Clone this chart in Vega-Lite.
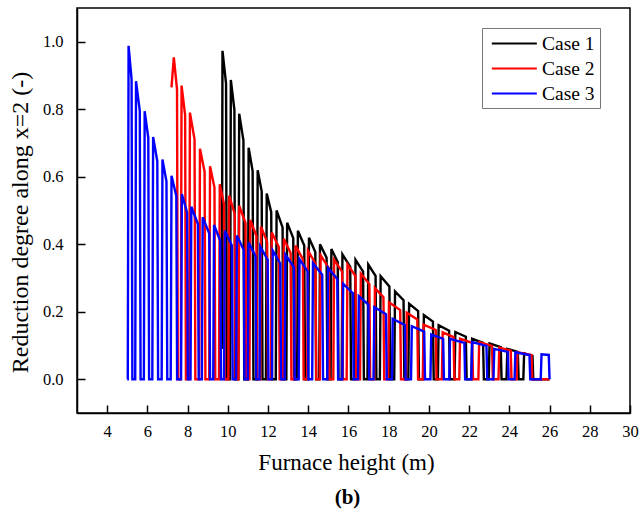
{
  "$schema": "https://vega.github.io/schema/vega-lite/v6.json",
  "width": 553,
  "height": 405,
  "autosize": {"type": "none"},
  "padding": {"left": 77, "top": 8, "right": 14, "bottom": 103},
  "background": "white",
  "title": {"text": "(b)", "orient": "bottom", "anchor": "middle", "font": "Liberation Serif", "fontSize": 21, "fontWeight": "bold", "color": "black", "offset": 12, "dx": -6},
  "data": {"values": [
    {"c":"Case 1","x":9.70,"y":0.09},{"c":"Case 1","x":9.735,"y":0.973},{"c":"Case 1","x":9.912,"y":0.876},{"c":"Case 1","x":9.952,"y":0},
    {"c":"Case 1","x":10.11,"y":0},{"c":"Case 1","x":10.15,"y":0.887},{"c":"Case 1","x":10.327,"y":0.798},{"c":"Case 1","x":10.367,"y":0},
    {"c":"Case 1","x":10.525,"y":0},{"c":"Case 1","x":10.565,"y":0.787},{"c":"Case 1","x":10.776,"y":0.708},{"c":"Case 1","x":10.816,"y":0},
    {"c":"Case 1","x":10.995,"y":0},{"c":"Case 1","x":11.035,"y":0.686},{"c":"Case 1","x":11.234,"y":0.617},{"c":"Case 1","x":11.274,"y":0},
    {"c":"Case 1","x":11.445,"y":0},{"c":"Case 1","x":11.485,"y":0.619},{"c":"Case 1","x":11.684,"y":0.557},{"c":"Case 1","x":11.724,"y":0},
    {"c":"Case 1","x":11.895,"y":0},{"c":"Case 1","x":11.935,"y":0.55},{"c":"Case 1","x":12.159,"y":0.495},{"c":"Case 1","x":12.199,"y":0},
    {"c":"Case 1","x":12.385,"y":0},{"c":"Case 1","x":12.425,"y":0.50},{"c":"Case 1","x":12.723,"y":0.45},{"c":"Case 1","x":12.763,"y":0},
    {"c":"Case 1","x":12.91,"y":0},{"c":"Case 1","x":12.95,"y":0.464},{"c":"Case 1","x":13.255,"y":0.418},{"c":"Case 1","x":13.295,"y":0},
    {"c":"Case 1","x":13.445,"y":0},{"c":"Case 1","x":13.485,"y":0.44},{"c":"Case 1","x":13.801,"y":0.396},{"c":"Case 1","x":13.841,"y":0},
    {"c":"Case 1","x":13.995,"y":0},{"c":"Case 1","x":14.035,"y":0.419},{"c":"Case 1","x":14.351,"y":0.377},{"c":"Case 1","x":14.391,"y":0},
    {"c":"Case 1","x":14.545,"y":0},{"c":"Case 1","x":14.585,"y":0.40},{"c":"Case 1","x":14.912,"y":0.36},{"c":"Case 1","x":14.952,"y":0},
    {"c":"Case 1","x":15.11,"y":0},{"c":"Case 1","x":15.15,"y":0.386},{"c":"Case 1","x":15.466,"y":0.347},{"c":"Case 1","x":15.506,"y":0},
    {"c":"Case 1","x":15.66,"y":0},{"c":"Case 1","x":15.70,"y":0.37},{"c":"Case 1","x":16.088,"y":0.333},{"c":"Case 1","x":16.128,"y":0},
    {"c":"Case 1","x":16.31,"y":0},{"c":"Case 1","x":16.35,"y":0.354},{"c":"Case 1","x":16.727,"y":0.319},{"c":"Case 1","x":16.767,"y":0},
    {"c":"Case 1","x":16.945,"y":0},{"c":"Case 1","x":16.985,"y":0.34},{"c":"Case 1","x":17.348,"y":0.306},{"c":"Case 1","x":17.388,"y":0},
    {"c":"Case 1","x":17.56,"y":0},{"c":"Case 1","x":17.60,"y":0.305},{"c":"Case 1","x":18.035,"y":0.275},{"c":"Case 1","x":18.075,"y":0},
    {"c":"Case 1","x":18.275,"y":0},{"c":"Case 1","x":18.315,"y":0.26},{"c":"Case 1","x":18.739,"y":0.234},{"c":"Case 1","x":18.779,"y":0},
    {"c":"Case 1","x":18.975,"y":0},{"c":"Case 1","x":19.015,"y":0.224},{"c":"Case 1","x":19.464,"y":0.202},{"c":"Case 1","x":19.504,"y":0},
    {"c":"Case 1","x":19.71,"y":0},{"c":"Case 1","x":19.75,"y":0.19},{"c":"Case 1","x":20.199,"y":0.171},{"c":"Case 1","x":20.239,"y":0},
    {"c":"Case 1","x":20.445,"y":0},{"c":"Case 1","x":20.485,"y":0.16},{"c":"Case 1","x":21.003,"y":0.144},{"c":"Case 1","x":21.043,"y":0},
    {"c":"Case 1","x":21.275,"y":0},{"c":"Case 1","x":21.315,"y":0.14},{"c":"Case 1","x":21.836,"y":0.126},{"c":"Case 1","x":21.876,"y":0},
    {"c":"Case 1","x":22.11,"y":0},{"c":"Case 1","x":22.15,"y":0.12},{"c":"Case 1","x":22.693,"y":0.108},{"c":"Case 1","x":22.733,"y":0},
    {"c":"Case 1","x":22.975,"y":0},{"c":"Case 1","x":23.015,"y":0.106},{"c":"Case 1","x":23.572,"y":0.095},{"c":"Case 1","x":23.612,"y":0},
    {"c":"Case 1","x":23.86,"y":0},{"c":"Case 1","x":23.90,"y":0.09},{"c":"Case 1","x":24.421,"y":0.081},{"c":"Case 1","x":24.461,"y":0},
    {"c":"Case 1","x":24.695,"y":0},{"c":"Case 1","x":24.735,"y":0.077},{"c":"Case 1","x":25.15,"y":0.069},{"c":"Case 1","x":25.19,"y":0},
    {"c":"Case 1","x":26.0,"y":0},

    {"c":"Case 2","x":7.20,"y":0.865},{"c":"Case 2","x":7.315,"y":0.954},{"c":"Case 2","x":7.474,"y":0.859},{"c":"Case 2","x":7.514,"y":0},
    {"c":"Case 2","x":7.66,"y":0},{"c":"Case 2","x":7.70,"y":0.87},{"c":"Case 2","x":7.877,"y":0.783},{"c":"Case 2","x":7.917,"y":0},
    {"c":"Case 2","x":8.075,"y":0},{"c":"Case 2","x":8.115,"y":0.79},{"c":"Case 2","x":8.345,"y":0.711},{"c":"Case 2","x":8.385,"y":0},
    {"c":"Case 2","x":8.575,"y":0},{"c":"Case 2","x":8.615,"y":0.683},{"c":"Case 2","x":8.845,"y":0.615},{"c":"Case 2","x":8.885,"y":0},
    {"c":"Case 2","x":9.075,"y":0},{"c":"Case 2","x":9.115,"y":0.631},{"c":"Case 2","x":9.336,"y":0.568},{"c":"Case 2","x":9.376,"y":0},
    {"c":"Case 2","x":9.56,"y":0},{"c":"Case 2","x":9.60,"y":0.578},{"c":"Case 2","x":9.808,"y":0.52},{"c":"Case 2","x":9.848,"y":0},
    {"c":"Case 2","x":10.025,"y":0},{"c":"Case 2","x":10.065,"y":0.544},{"c":"Case 2","x":10.345,"y":0.49},{"c":"Case 2","x":10.385,"y":0},
    {"c":"Case 2","x":10.525,"y":0},{"c":"Case 2","x":10.565,"y":0.514},{"c":"Case 2","x":10.881,"y":0.463},{"c":"Case 2","x":10.921,"y":0},
    {"c":"Case 2","x":11.075,"y":0},{"c":"Case 2","x":11.115,"y":0.472},{"c":"Case 2","x":11.42,"y":0.425},{"c":"Case 2","x":11.46,"y":0},
    {"c":"Case 2","x":11.61,"y":0},{"c":"Case 2","x":11.65,"y":0.452},{"c":"Case 2","x":11.955,"y":0.407},{"c":"Case 2","x":11.995,"y":0},
    {"c":"Case 2","x":12.145,"y":0},{"c":"Case 2","x":12.185,"y":0.435},{"c":"Case 2","x":12.537,"y":0.392},{"c":"Case 2","x":12.577,"y":0},
    {"c":"Case 2","x":12.745,"y":0},{"c":"Case 2","x":12.785,"y":0.416},{"c":"Case 2","x":13.123,"y":0.374},{"c":"Case 2","x":13.163,"y":0},
    {"c":"Case 2","x":13.325,"y":0},{"c":"Case 2","x":13.365,"y":0.396},{"c":"Case 2","x":13.731,"y":0.356},{"c":"Case 2","x":13.771,"y":0},
    {"c":"Case 2","x":13.945,"y":0},{"c":"Case 2","x":13.985,"y":0.381},{"c":"Case 2","x":14.359,"y":0.343},{"c":"Case 2","x":14.399,"y":0},
    {"c":"Case 2","x":14.575,"y":0},{"c":"Case 2","x":14.615,"y":0.367},{"c":"Case 2","x":15.017,"y":0.33},{"c":"Case 2","x":15.057,"y":0},
    {"c":"Case 2","x":15.245,"y":0},{"c":"Case 2","x":15.285,"y":0.354},{"c":"Case 2","x":15.684,"y":0.319},{"c":"Case 2","x":15.724,"y":0},
    {"c":"Case 2","x":15.91,"y":0},{"c":"Case 2","x":15.95,"y":0.34},{"c":"Case 2","x":16.349,"y":0.306},{"c":"Case 2","x":16.389,"y":0},
    {"c":"Case 2","x":16.575,"y":0},{"c":"Case 2","x":16.615,"y":0.313},{"c":"Case 2","x":17.039,"y":0.282},{"c":"Case 2","x":17.079,"y":0},
    {"c":"Case 2","x":17.275,"y":0},{"c":"Case 2","x":17.315,"y":0.27},{"c":"Case 2","x":17.739,"y":0.243},{"c":"Case 2","x":17.779,"y":0},
    {"c":"Case 2","x":17.975,"y":0},{"c":"Case 2","x":18.015,"y":0.228},{"c":"Case 2","x":18.572,"y":0.205},{"c":"Case 2","x":18.612,"y":0},
    {"c":"Case 2","x":18.86,"y":0},{"c":"Case 2","x":18.90,"y":0.197},{"c":"Case 2","x":19.421,"y":0.177},{"c":"Case 2","x":19.461,"y":0},
    {"c":"Case 2","x":19.695,"y":0},{"c":"Case 2","x":19.735,"y":0.162},{"c":"Case 2","x":20.339,"y":0.146},{"c":"Case 2","x":20.379,"y":0},
    {"c":"Case 2","x":20.645,"y":0},{"c":"Case 2","x":20.685,"y":0.139},{"c":"Case 2","x":21.228,"y":0.125},{"c":"Case 2","x":21.268,"y":0},
    {"c":"Case 2","x":21.51,"y":0},{"c":"Case 2","x":21.55,"y":0.12},{"c":"Case 2","x":22.154,"y":0.108},{"c":"Case 2","x":22.194,"y":0},
    {"c":"Case 2","x":22.46,"y":0},{"c":"Case 2","x":22.50,"y":0.11},{"c":"Case 2","x":23.14,"y":0.099},{"c":"Case 2","x":23.18,"y":0},
    {"c":"Case 2","x":23.46,"y":0},{"c":"Case 2","x":23.50,"y":0.094},{"c":"Case 2","x":24.068,"y":0.085},{"c":"Case 2","x":24.108,"y":0},
    {"c":"Case 2","x":24.36,"y":0},{"c":"Case 2","x":24.40,"y":0.08},{"c":"Case 2","x":25.10,"y":0.072},{"c":"Case 2","x":25.14,"y":0},
    {"c":"Case 2","x":26.0,"y":0},

    {"c":"Case 3","x":5.0,"y":0},
    {"c":"Case 3","x":5.025,"y":0},{"c":"Case 3","x":5.065,"y":0.988},{"c":"Case 3","x":5.214,"y":0.889},{"c":"Case 3","x":5.254,"y":0},
    {"c":"Case 3","x":5.395,"y":0},{"c":"Case 3","x":5.435,"y":0.883},{"c":"Case 3","x":5.622,"y":0.795},{"c":"Case 3","x":5.662,"y":0},
    {"c":"Case 3","x":5.825,"y":0},{"c":"Case 3","x":5.865,"y":0.794},{"c":"Case 3","x":6.045,"y":0.715},{"c":"Case 3","x":6.085,"y":0},
    {"c":"Case 3","x":6.245,"y":0},{"c":"Case 3","x":6.285,"y":0.718},{"c":"Case 3","x":6.493,"y":0.646},{"c":"Case 3","x":6.533,"y":0},
    {"c":"Case 3","x":6.71,"y":0},{"c":"Case 3","x":6.75,"y":0.651},{"c":"Case 3","x":6.949,"y":0.586},{"c":"Case 3","x":6.989,"y":0},
    {"c":"Case 3","x":7.16,"y":0},{"c":"Case 3","x":7.20,"y":0.603},{"c":"Case 3","x":7.439,"y":0.543},{"c":"Case 3","x":7.479,"y":0},
    {"c":"Case 3","x":7.675,"y":0},{"c":"Case 3","x":7.715,"y":0.549},{"c":"Case 3","x":7.973,"y":0.494},{"c":"Case 3","x":8.013,"y":0},
    {"c":"Case 3","x":8.145,"y":0},{"c":"Case 3","x":8.185,"y":0.511},{"c":"Case 3","x":8.512,"y":0.46},{"c":"Case 3","x":8.552,"y":0},
    {"c":"Case 3","x":8.71,"y":0},{"c":"Case 3","x":8.75,"y":0.48},{"c":"Case 3","x":9.077,"y":0.432},{"c":"Case 3","x":9.117,"y":0},
    {"c":"Case 3","x":9.275,"y":0},{"c":"Case 3","x":9.315,"y":0.457},{"c":"Case 3","x":9.62,"y":0.411},{"c":"Case 3","x":9.66,"y":0},
    {"c":"Case 3","x":9.81,"y":0},{"c":"Case 3","x":9.85,"y":0.44},{"c":"Case 3","x":10.202,"y":0.396},{"c":"Case 3","x":10.242,"y":0},
    {"c":"Case 3","x":10.41,"y":0},{"c":"Case 3","x":10.45,"y":0.426},{"c":"Case 3","x":10.791,"y":0.383},{"c":"Case 3","x":10.831,"y":0},
    {"c":"Case 3","x":10.995,"y":0},{"c":"Case 3","x":11.035,"y":0.405},{"c":"Case 3","x":11.373,"y":0.365},{"c":"Case 3","x":11.413,"y":0},
    {"c":"Case 3","x":11.575,"y":0},{"c":"Case 3","x":11.615,"y":0.393},{"c":"Case 3","x":11.981,"y":0.354},{"c":"Case 3","x":12.021,"y":0},
    {"c":"Case 3","x":12.195,"y":0},{"c":"Case 3","x":12.235,"y":0.381},{"c":"Case 3","x":12.609,"y":0.343},{"c":"Case 3","x":12.649,"y":0},
    {"c":"Case 3","x":12.825,"y":0},{"c":"Case 3","x":12.865,"y":0.369},{"c":"Case 3","x":13.289,"y":0.332},{"c":"Case 3","x":13.329,"y":0},
    {"c":"Case 3","x":13.525,"y":0},{"c":"Case 3","x":13.565,"y":0.356},{"c":"Case 3","x":13.967,"y":0.32},{"c":"Case 3","x":14.007,"y":0},
    {"c":"Case 3","x":14.195,"y":0},{"c":"Case 3","x":14.235,"y":0.344},{"c":"Case 3","x":14.695,"y":0.31},{"c":"Case 3","x":14.735,"y":0},
    {"c":"Case 3","x":14.945,"y":0},{"c":"Case 3","x":14.985,"y":0.33},{"c":"Case 3","x":15.445,"y":0.297},{"c":"Case 3","x":15.485,"y":0},
    {"c":"Case 3","x":15.695,"y":0},{"c":"Case 3","x":15.735,"y":0.283},{"c":"Case 3","x":16.217,"y":0.255},{"c":"Case 3","x":16.257,"y":0},
    {"c":"Case 3","x":16.475,"y":0},{"c":"Case 3","x":16.515,"y":0.246},{"c":"Case 3","x":16.989,"y":0.221},{"c":"Case 3","x":17.029,"y":0},
    {"c":"Case 3","x":17.245,"y":0},{"c":"Case 3","x":17.285,"y":0.214},{"c":"Case 3","x":17.864,"y":0.193},{"c":"Case 3","x":17.904,"y":0},
    {"c":"Case 3","x":18.16,"y":0},{"c":"Case 3","x":18.20,"y":0.179},{"c":"Case 3","x":18.804,"y":0.161},{"c":"Case 3","x":18.844,"y":0},
    {"c":"Case 3","x":19.11,"y":0},{"c":"Case 3","x":19.15,"y":0.157},{"c":"Case 3","x":19.765,"y":0.141},{"c":"Case 3","x":19.805,"y":0},
    {"c":"Case 3","x":20.075,"y":0},{"c":"Case 3","x":20.115,"y":0.133},{"c":"Case 3","x":20.708,"y":0.12},{"c":"Case 3","x":20.748,"y":0},
    {"c":"Case 3","x":21.01,"y":0},{"c":"Case 3","x":21.05,"y":0.12},{"c":"Case 3","x":21.762,"y":0.108},{"c":"Case 3","x":21.802,"y":0},
    {"c":"Case 3","x":22.11,"y":0},{"c":"Case 3","x":22.15,"y":0.11},{"c":"Case 3","x":22.862,"y":0.099},{"c":"Case 3","x":22.902,"y":0},
    {"c":"Case 3","x":23.21,"y":0},{"c":"Case 3","x":23.25,"y":0.09},{"c":"Case 3","x":23.926,"y":0.081},{"c":"Case 3","x":23.966,"y":0},
    {"c":"Case 3","x":24.26,"y":0},{"c":"Case 3","x":24.30,"y":0.08},{"c":"Case 3","x":25.0,"y":0.072},{"c":"Case 3","x":25.04,"y":0},
    {"c":"Case 3","x":25.56,"y":0},{"c":"Case 3","x":25.60,"y":0.074},{"c":"Case 3","x":25.96,"y":0.072},{"c":"Case 3","x":26.0,"y":0}
  ]},
  "mark": {"type": "line", "strokeWidth": 2.4, "interpolate": "linear", "clip": true},
  "encoding": {
    "x": {"field": "x", "type": "quantitative",
      "scale": {"domain": [2.5, 30], "nice": false, "zero": false},
      "axis": {"title": "Furnace height (m)", "values": [4,6,8,10,12,14,16,18,20,22,24,26,28,30], "format": "d", "labelFlush": false, "labelPadding": 18, "titlePadding": 12, "titleFontSize": 23, "titleX": 269}},
    "y": {"field": "y", "type": "quantitative",
      "scale": {"domain": [-0.1, 1.1], "nice": false, "zero": false},
      "axis": {"title": "Reduction degree along x=2 (-)", "values": [0,0.2,0.4,0.6,0.8,1.0], "format": ".1f", "labelFlush": false, "labelPadding": 22, "titlePadding": 10, "titleFontSize": 24, "titleY": 214}},
    "color": {"field": "c", "type": "nominal",
      "scale": {"domain": ["Case 1","Case 2","Case 3"], "range": ["#000000","#ff0000","#0000ff"]},
      "legend": {"title": null, "orient": "none", "legendX": 405, "legendY": 20, "symbolType": "M-0.63,0H4.37", "symbolSize": 324, "symbolStrokeWidth": 2.2, "labelFont": "Liberation Serif", "labelFontSize": 19.5, "labelColor": "black", "labelOffset": 34, "rowPadding": 5, "padding": 5, "strokeColor": "#777777", "fillColor": "white"}}
  },
  "config": {
    "font": "Liberation Serif",
    "view": {"stroke": "black", "strokeWidth": 1.5},
    "axis": {"domainColor": "black", "domainWidth": 1.5, "tickColor": "black", "tickWidth": 1.5, "tickSize": -8, "grid": false,
      "labelFont": "Liberation Serif", "labelFontSize": 16.5, "labelColor": "black",
      "titleFont": "Liberation Serif", "titleFontSize": 24, "titleFontWeight": "normal", "titleColor": "black"}
  }
}
